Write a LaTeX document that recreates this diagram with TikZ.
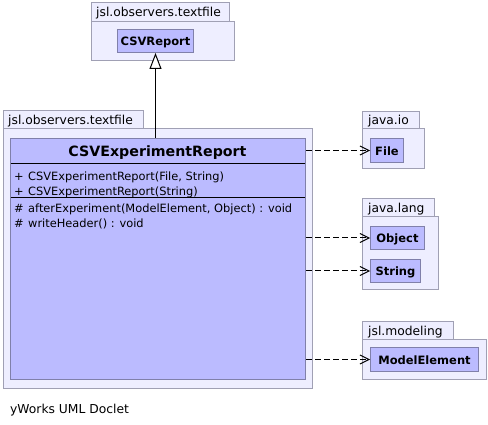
\documentclass[tikz,border=0pt]{standalone}
\usepackage{fontspec}
\setmainfont{DejaVu Sans}
\usetikzlibrary{arrows.meta,calc}
\definecolor{pkgfill}{RGB}{238,238,255}
\definecolor{pkgdraw}{RGB}{160,160,180}
\definecolor{clsfill}{RGB}{187,187,255}
\definecolor{clsdraw}{RGB}{128,128,170}
\begin{document}
\begin{tikzpicture}[x=1pt,y=-1pt,
  pkg/.style={draw=pkgdraw, fill=pkgfill, line width=1pt},
  pkglabel/.style={anchor=base west, inner sep=0pt, font=\fontsize{12.3}{14}\selectfont},
  cls/.style={draw=clsdraw, fill=clsfill, line width=1pt, inner sep=0pt, anchor=north west},
  clsname/.style={anchor=base, inner sep=0pt, font=\fontsize{11.5}{13}\bfseries\selectfont},
  member/.style={anchor=base west, inner sep=0pt, font=\fontsize{11.4}{13}\selectfont},
  sep/.style={draw=black, line width=1pt},
  dep/.style={draw=black, line width=1pt, dash pattern=on 6pt off 3pt, -{Straight Barb[length=9pt,width=9pt]}},
  gen/.style={draw=black, line width=1pt, -{Triangle[open,length=16pt,width=12pt,fill=white]}}]

\useasboundingbox (0,0) rectangle (488,425);
\fill[white] (0,0) rectangle (488,425);

% top package
\draw[pkg] (91,3) rectangle (229,22);
\draw[pkg] (91,22) rectangle (234,61);
\node[pkglabel] (ltop) at (96,17) {jsl.observers.textfile};
\node[cls, minimum width=76pt, minimum height=23pt] (csvreport) at (117,29) {};
\node[clsname] (ncsvreport) at ($(csvreport.center)+(0,5)$) {CSVReport};

% main package
\draw[pkg] (3,111) rectangle (143,129);
\draw[pkg] (3,129) rectangle (312,388);
\node[pkglabel] (lmain) at (8,125) {jsl.observers.textfile};
\node[cls, minimum width=295pt, minimum height=241pt] (main) at (10,138) {};
\node[anchor=base, inner sep=0pt, font=\fontsize{14.2}{16}\bfseries\selectfont] (title) at (157.5,157) {CSVExperimentReport};
\draw[sep] (10.5,164) -- (304.5,164);
\draw[sep] (10.5,198) -- (304.5,198);
\node[member] (m1a) at (14,181) {+};
\node[member] (m1) at (28,181) {CSVExperimentReport(File, String)};
\node[member] (m2a) at (14,196) {+};
\node[member] (m2) at (28,196) {CSVExperimentReport(String)};
\node[member] (m3a) at (14,213) {\#};
\node[member] (m3) at (28,213) {afterExperiment(ModelElement, Object) : void};
\node[member] (m4a) at (14,228) {\#};
\node[member] (m4) at (28,228) {writeHeader() : void};

% java.io
\draw[pkg] (362,112) rectangle (419,129);
\draw[pkg] (362,129) rectangle (424,169);
\node[pkglabel] (lio) at (368,125) {java.io};
\node[cls, minimum width=33pt, minimum height=24pt] (file) at (370,138) {};
\node[clsname] (nfile) at ($(file.center)+(0,5)$) {File};

% java.lang
\draw[pkg] (362,199) rectangle (434,217);
\draw[pkg] (362,217) rectangle (438,290);
\node[pkglabel] (llang) at (368,213) {java.lang};
\node[cls, minimum width=54pt, minimum height=23pt] (object) at (370,226) {};
\node[clsname] (nobject) at ($(object.center)+(0,5)$) {Object};
\node[cls, minimum width=50pt, minimum height=23pt] (string) at (370,259) {};
\node[clsname] (nstring) at ($(string.center)+(0,5)$) {String};

% jsl.modeling
\draw[pkg] (362,321) rectangle (453,339);
\draw[pkg] (362,339) rectangle (486,379);
\node[pkglabel] (lmod) at (368,335) {jsl.modeling};
\node[cls, minimum width=108pt, minimum height=24pt] (modelelement) at (370,347) {};
\node[clsname] (nmodelelement) at ($(modelelement.center)+(0,5)$) {ModelElement};

% connectors
\draw[gen] (main.north -| csvreport.south) -- (csvreport.south);
\draw[dep] (main.east |- file.west) -- (file.west);
\draw[dep] (main.east |- object.west) -- (object.west);
\draw[dep] (main.east |- string.west) -- (string.west);
\draw[dep] (main.east |- modelelement.west) -- (modelelement.west);

% footer
\node[pkglabel] (footer) at (10,413) {yWorks UML Doclet};
\end{tikzpicture}
\end{document}
